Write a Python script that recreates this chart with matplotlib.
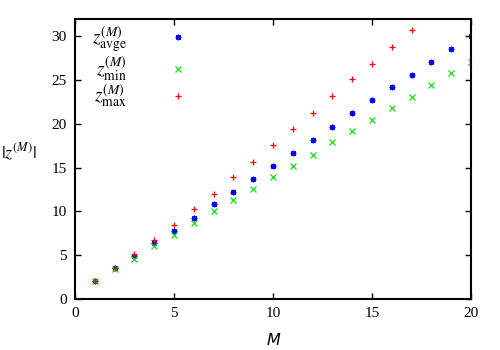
import numpy as np
import matplotlib
matplotlib.use("Agg")
import matplotlib.pyplot as plt

plt.rcParams['font.family'] = ['Liberation Serif', 'DejaVu Serif']
plt.rcParams['mathtext.fontset'] = 'stix'

# data
M_avg = list(range(1, 21))
z_avg = [2.0, 3.5, 4.9, 6.4, 7.8, 9.3, 10.8, 12.2, 13.7, 15.2,
         16.7, 18.2, 19.7, 21.2, 22.7, 24.2, 25.6, 27.1, 28.6, 30.1]
M_min = list(range(1, 21))
z_min = [2.0, 3.4, 4.6, 6.0, 7.3, 8.7, 10.0, 11.3, 12.6, 13.9,
         15.2, 16.5, 17.9, 19.2, 20.5, 21.8, 23.1, 24.5, 25.85, 27.1]
M_max = list(range(1, 18))
z_max = [2.0, 3.5, 5.1, 6.7, 8.5, 10.3, 12.0, 13.9, 15.7, 17.6,
         19.4, 21.3, 23.2, 25.1, 26.9, 28.8, 30.7]

fig = plt.figure(figsize=(5, 3.5), dpi=100)
ax = fig.add_axes([0.15, 0.146, 0.792, 0.80])

ax.plot(M_avg, z_avg, ls='none', marker=(8, 2, 0), ms=4, mew=0.9, color='#0000ff',
        label=r'$z^{(M)}_{\rm avge}$')
ax.plot(M_min, z_min, ls='none', marker='x', ms=4, mew=0.9, color='#11dd11',
        label=r'$z^{(M)}_{\rm min}$')
ax.plot(M_max, z_max, ls='none', marker='+', ms=5, mew=0.9, color='#ff0000',
        label=r'$z^{(M)}_{\rm max}$')

ax.set_xlim(0, 20)
ax.set_ylim(0, 32)
ax.set_xticks([0, 5, 10, 15, 20])
ax.set_yticks([0, 5, 10, 15, 20, 25, 30])
ax.tick_params(direction='in', top=True, right=True, labelsize=11, length=4, width=1, pad=6)
for s in ax.spines.values():
    s.set_linewidth(1.5)

ax.set_xlabel('M', fontsize=11.5, family='DejaVu Sans', style='italic', labelpad=9)
ax.set_ylabel(r'$|z^{(M)}|$', fontsize=13, rotation=0, va='center', ha='center')
ax.yaxis.set_label_coords(-0.141, 0.525)

ax.legend(loc='upper left', bbox_to_anchor=(0.008, 1.029), frameon=False, markerfirst=False,
          fontsize=14, handletextpad=2.15, handlelength=1.0, labelspacing=-0.03,
          borderaxespad=0.3)

fig.savefig('out.png', dpi=100)
